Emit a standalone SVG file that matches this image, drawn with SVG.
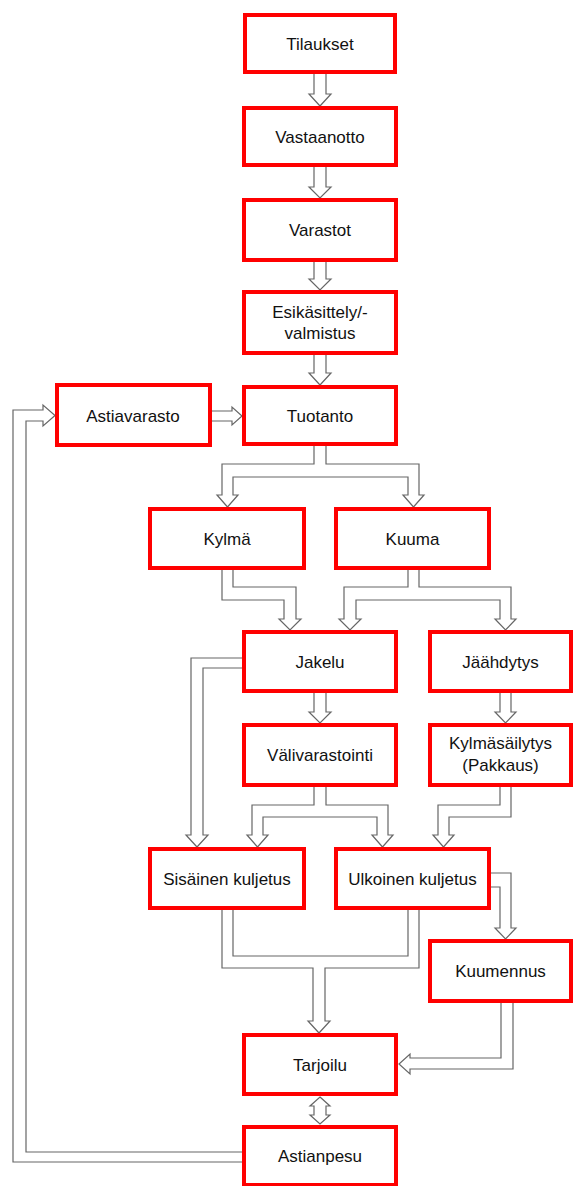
<svg xmlns="http://www.w3.org/2000/svg" width="574" height="1186" viewBox="0 0 574 1186">
<style>
.box{fill:#fff;stroke:#f00;stroke-width:4}
.t{font-family:"Liberation Sans",Arial,sans-serif;font-size:17px;fill:#111;text-anchor:middle}
.c{fill:#fff;stroke:#666;stroke-width:1.2;stroke-linejoin:miter}
.l{fill:none;stroke:#666;stroke-width:1.2}
</style>
<rect width="574" height="1186" fill="#fff"/>
<g id="connectors">
<path class="c" d="M314,74 V94 H309 L320,106 L331,94 H326 V74"/>
<path class="c" d="M314,167 V187 H309 L320,198 L331,187 H326 V167"/>
<path class="c" d="M314,262 V279 H309 L320,290 L331,279 H326 V262"/>
<path class="c" d="M314,355 V373 H309 L320,385 L331,373 H326 V355"/>
<path class="c" d="M212,411 H232 V407 L242,416 L232,425 V421 H212"/>
<path class="c" d="M242,1162 H13 V410 H43 V405 L55,415.5 L43,426 V421 H26 V1152 H242"/>
<path class="c" d="M314,446 V464 H222 V495 H217 L227.5,507 L238,495 H233 V477 H408 V495 H403 L413.5,507 L424,495 H419 V464 H326 V446"/>
<path class="c" d="M222,570 V600 H284 V619 H279 L290,630 L301,619 H296 V587 H233 V570"/>
<path class="c" d="M408,570 V587 H344 V619 H339 L350,630 L361,619 H356 V600 H500 V619 H495 L505.5,630 L516,619 H511 V587 H419 V570"/>
<path class="c" d="M314,693 V712 H309 L320,723 L331,712 H326 V693"/>
<path class="c" d="M500,693 V712 H495 L505.5,723 L516,712 H511 V693"/>
<path class="c" d="M242,658 H191 V835 H186 L197,847 L208,835 H203 V668 H242"/>
<path class="c" d="M314,787 V805 H252 V835 H247 L257.5,847 L268,835 H263 V817 H377 V835 H372 L382.5,847 L393,835 H388 V805 H326 V787"/>
<path class="c" d="M500,787 V805 H438 V835 H433 L443.5,847 L454,835 H449 V817 H511 V787"/>
<path class="c" d="M491,873 H511 V928 H516 L505.5,939 L495,928 H500 V887 H491"/>
<path class="c" d="M222,910 V968 H313 V1021 H308 L319,1033 L330,1021 H325 V968 H419 V910"/>
<path class="l" d="M233,910 V956 H408 V910"/>
<path class="c" d="M501,1003 V1058 H410 V1054 L399,1064 L410,1074 V1069 H513 V1003"/>
<path class="c" d="M320,1097 L330,1106 H326 V1115 H330 L320,1124 L310,1115 H314 V1106 H310 Z"/>
</g>
<g id="tilaukset"><rect class="box" x="245" y="15" width="150" height="57"/><text class="t" x="320" y="50">Tilaukset</text></g>
<g id="vastaanotto"><rect class="box" x="244" y="108" width="152" height="57"/><text class="t" x="320" y="143">Vastaanotto</text></g>
<g id="varastot"><rect class="box" x="244" y="200" width="152" height="60"/><text class="t" x="320" y="236">Varastot</text></g>
<g id="esikasittely"><rect class="box" x="244" y="292" width="152" height="61"/><text class="t" x="320" y="318">Esikäsittely/-</text><text class="t" x="320" y="339">valmistus</text></g>
<g id="tuotanto"><rect class="box" x="244" y="387" width="152" height="57"/><text class="t" x="320" y="422">Tuotanto</text></g>
<g id="astiavarasto"><rect class="box" x="57" y="385" width="153" height="60"/><text class="t" x="133" y="422">Astiavarasto</text></g>
<g id="kylma"><rect class="box" x="150" y="509" width="154" height="59"/><text class="t" x="227" y="545">Kylmä</text></g>
<g id="kuuma"><rect class="box" x="336" y="509" width="153" height="59"/><text class="t" x="412.5" y="545">Kuuma</text></g>
<g id="jakelu"><rect class="box" x="244" y="632" width="152" height="59"/><text class="t" x="320" y="668">Jakelu</text></g>
<g id="jaahdytys"><rect class="box" x="430" y="632" width="141" height="59"/><text class="t" x="500.5" y="668">Jäähdytys</text></g>
<g id="valivarastointi"><rect class="box" x="244" y="725" width="152" height="60"/><text class="t" x="320" y="761">Välivarastointi</text></g>
<g id="kylmasailytys"><rect class="box" x="430" y="725" width="141" height="60"/><text class="t" x="500.5" y="749">Kylmäsäilytys</text><text class="t" x="500.5" y="771">(Pakkaus)</text></g>
<g id="sisainen"><rect class="box" x="150" y="849" width="154" height="59"/><text class="t" x="227" y="885">Sisäinen kuljetus</text></g>
<g id="ulkoinen"><rect class="box" x="336" y="849" width="153" height="59"/><text class="t" x="412.5" y="885">Ulkoinen kuljetus</text></g>
<g id="kuumennus"><rect class="box" x="430" y="941" width="141" height="60"/><text class="t" x="500.5" y="977">Kuumennus</text></g>
<g id="tarjoilu"><rect class="box" x="244" y="1035" width="152" height="59"/><text class="t" x="320" y="1071">Tarjoilu</text></g>
<g id="astianpesu"><rect class="box" x="244" y="1127" width="152" height="58"/><text class="t" x="320" y="1162">Astianpesu</text></g>
</svg>
